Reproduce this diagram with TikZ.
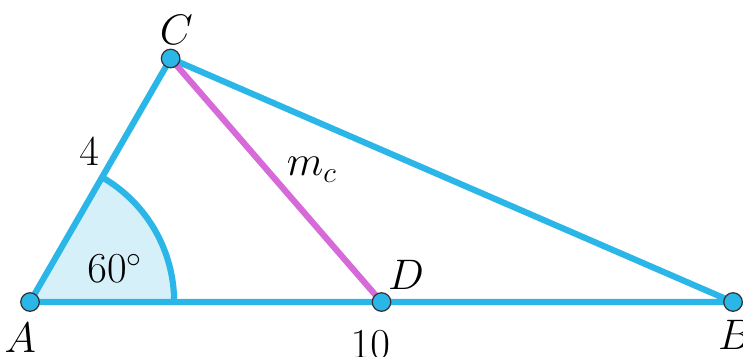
\documentclass[tikz,border=0pt]{standalone}
\usepackage{tikz}
\definecolor{sideblue}{RGB}{43,182,232}
\definecolor{anglefill}{RGB}{214,240,250}
\definecolor{medpink}{RGB}{214,106,217}
\tikzset{
    side/.style={sideblue, line width=2.5pt},
    pt/.style={circle, draw=black!80, fill=sideblue, line width=0.5pt, minimum size=7.5pt, inner sep=0pt},
    lbl/.style={font=\fontsize{18.5}{21}\selectfont}
}
\begin{document}
\begin{tikzpicture}
    \useasboundingbox (-0.427,-0.768) rectangle (10.142,4.296);
    % 顶点
    \coordinate (A) at (0,0);
    \coordinate (B) at (10,0);
    \coordinate (C) at (60:4);
    \coordinate (D) at (5,0);

    % 角
    \fill[anglefill] (A) -- (2.05,0) arc (0:60:2.05) -- cycle;
    \draw[side] (2.05,0) arc (0:60:2.05);

    % 边
    \draw[side] (A) -- (B) -- (C) -- cycle;
    \draw[medpink, line width=2.5pt] (C) -- (D);

    % 点
    \node[pt] (pA) at (A) {};
    \node[pt] (pB) at (B) {};
    \node[pt] (pC) at (C) {};
    \node[pt] (pD) at (D) {};

    % 标注
    \node[lbl] (lA) at (-0.14,-0.51) {$A$};
    \node[lbl] (lB) at (10.03,-0.47) {$B$};
    \node[lbl] (lC) at (2.08,3.87) {$C$};
    \node[lbl] (lD) at (5.35,0.38) {$D$};
    \node[lbl] (l4) at (0.84,2.14) {$4$};
    \node[lbl] (l10) at (4.84,-0.61) {$10$};
    \node[lbl] (lm) at (4.01,1.88) {$m_c$};
    \node[lbl] (lang) at (1.21,0.48) {$60^\circ$};
\end{tikzpicture}
\end{document}
